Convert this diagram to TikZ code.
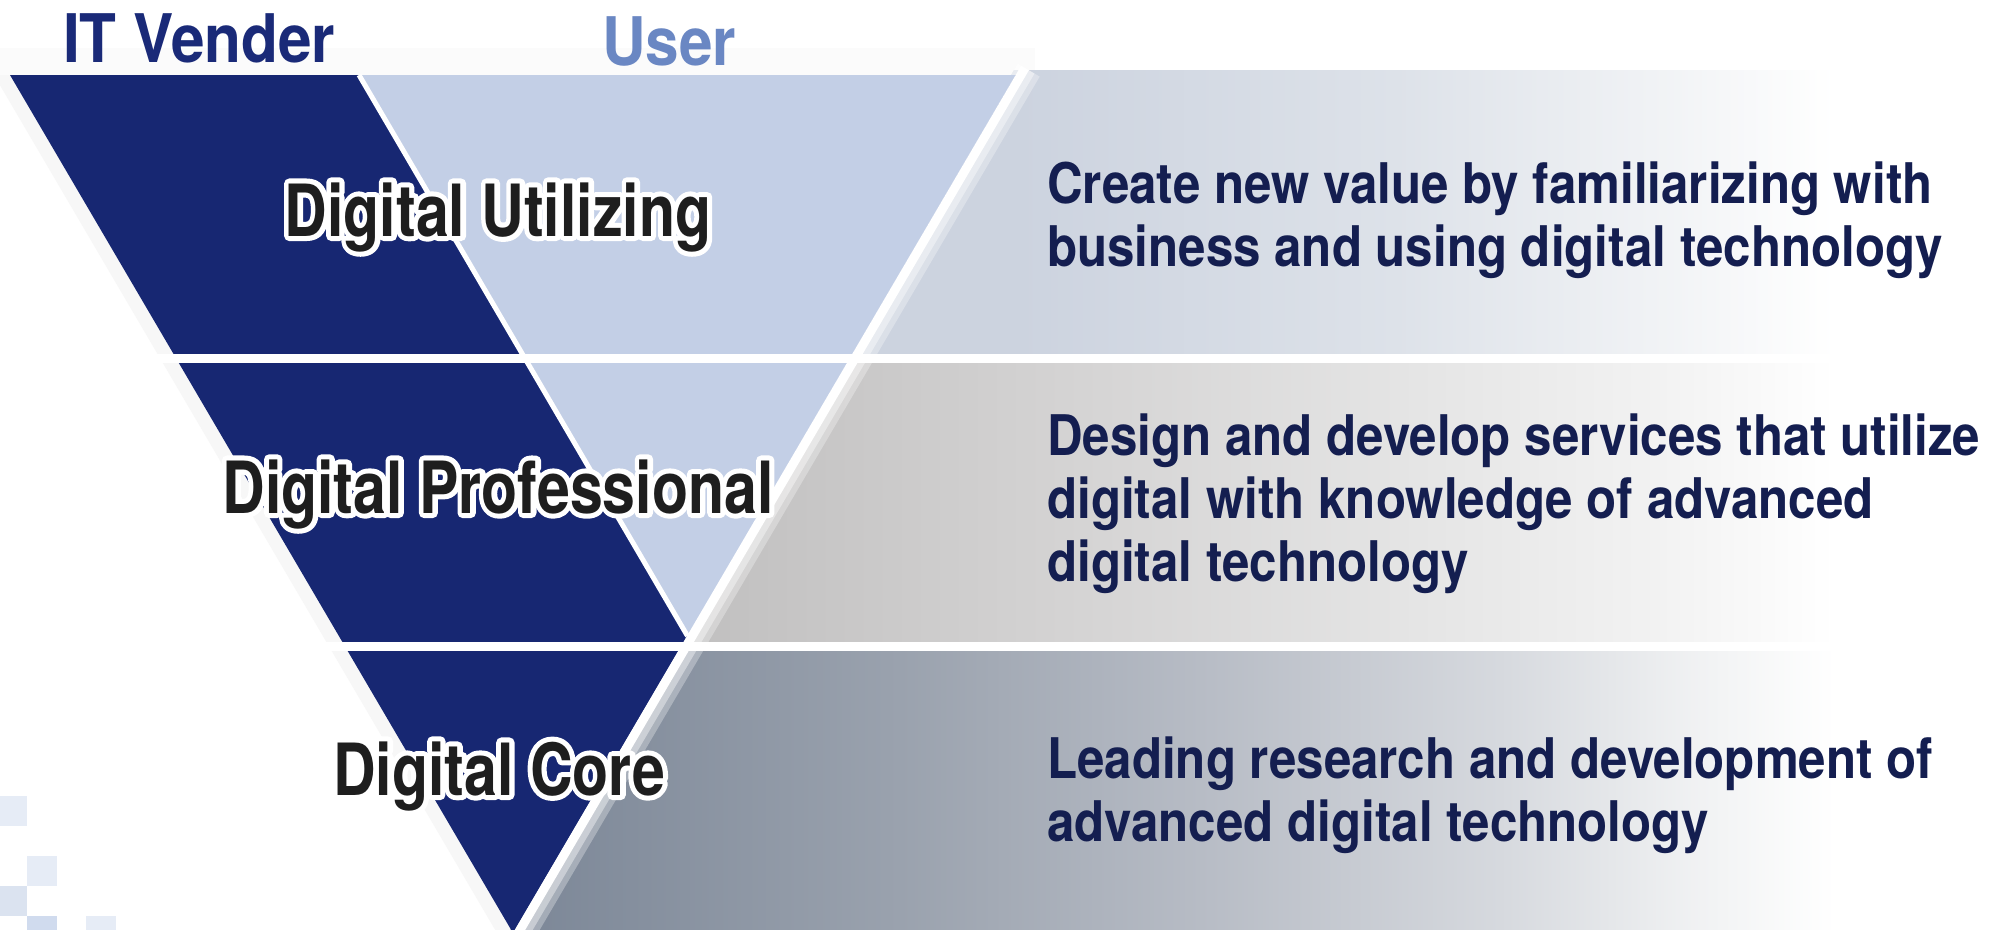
\documentclass[tikz,border=0pt]{standalone}
\usepackage{fontspec}
\newfontfamily\lblfont{TeX Gyre Heros}[FakeStretch=0.82]
\newfontfamily\glowfont{TeX Gyre Heros}[UprightFont=* Bold, FakeStretch=0.82, FakeBold=14]
\newfontfamily\descfont{TeX Gyre Heros}[FakeStretch=0.88]
\newfontfamily\hdrfont{TeX Gyre Heros}[FakeStretch=0.9]
\usetikzlibrary{calc}
\definecolor{navy}{HTML}{172772}
\definecolor{lightblue}{HTML}{C3CFE6}
\definecolor{hdrnavy}{HTML}{1A2A78}
\definecolor{userblue}{HTML}{6A87C3}
\definecolor{desccol}{HTML}{141E50}
\definecolor{lblcol}{HTML}{1E1E1E}
\definecolor{sqA}{HTML}{E6ECF6}
\definecolor{sqB}{HTML}{DBE3F0}
\definecolor{sqC}{HTML}{D0DBEE}
\pgfdeclarehorizontalshading{tierone}{100bp}{rgb(0bp)=(.80,.827,.875); rgb(46.5bp)=(.80,.827,.875); rgb(59.7bp)=(.867,.886,.914); rgb(69bp)=(.945,.952,.962); rgb(75bp)=(1,1,1); rgb(100bp)=(1,1,1)}
\pgfdeclarehorizontalshading{tiertwo}{100bp}{rgb(0bp)=(.757,.753,.753); rgb(35.5bp)=(.757,.753,.753); rgb(49.4bp)=(.839,.835,.835); rgb(59.8bp)=(.894,.894,.894); rgb(69bp)=(.95,.95,.95); rgb(75bp)=(1,1,1); rgb(100bp)=(1,1,1)}
\pgfdeclarehorizontalshading{tierthree}{100bp}{rgb(0bp)=(.49,.533,.596); rgb(29.5bp)=(.49,.533,.596); rgb(42.4bp)=(.604,.635,.682); rgb(52.9bp)=(.718,.737,.773); rgb(63.3bp)=(.839,.851,.871); rgb(70bp)=(.94,.945,.95); rgb(75bp)=(1,1,1); rgb(100bp)=(1,1,1)}
\newcommand{\glowtxt}[1]{\rlap{\glowfont\textcolor{white}{#1}}#1}
\tikzset{
  lbl/.style={font=\lblfont\bfseries\fontsize{72}{80}\selectfont, text=lblcol, inner sep=0pt, anchor=base},
  desc/.style={font=\descfont\bfseries\fontsize{56}{63}\selectfont, text=desccol, inner sep=0pt, anchor=base west},
  hdr/.style={font=\hdrfont\bfseries\fontsize{67}{70}\selectfont, inner sep=0pt, anchor=base west},
  sep/.style={fill=white},
  edgeline/.style={draw=white, line width=9pt},
  divline/.style={draw=white, line width=5pt}
}
\begin{document}
\begin{tikzpicture}[x=1pt,y=-1pt]
\useasboundingbox (0,0) rectangle (1991,929);
\fill[white] (0,0) rectangle (1991,929);
% faint band above triangle
\fill[black!1.5] (0,48) rectangle (1035,75);
% decorative squares
\fill[sqA] (-2,796) rectangle (27,826);
\fill[sqA] (27,856) rectangle (57,886);
\fill[sqB] (-2,886) rectangle (27,916);
\fill[sqC] (27,916) rectangle (57,946);
\fill[sqA] (86,916) rectangle (116,946);
% key points
\coordinate (TL) at (10,75);
\coordinate (TR) at (1016,75);
\coordinate (AP) at (513,933);
\coordinate (DR) at (359,75);
\coordinate (LT) at (687.5,636);
\coordinate (EB1) at (1025,68);
\coordinate (EB2) at (517,935);
% left faint shadow
\fill[black!3] (TL) -- (AP) -- ($(AP)+(-16,0)$) -- ($(TL)+(-16,0)$) -- cycle;
% gradient panels, kept right of the triangle
\begin{scope}
  \clip (1020,60) -- (2000,60) -- (2000,940) -- (504,940) -- cycle;
  \shade[shading=tierone] (400,70) rectangle (1835,354);
  \shade[shading=tiertwo] (400,363) rectangle (1835,642);
  \shade[shading=tierthree] (400,651) rectangle (1835,935);
  \draw[white, opacity=0.3, line width=34pt] (EB1) -- (EB2);
  \draw[white, opacity=0.4, line width=22pt] (EB1) -- (EB2);
\end{scope}
% triangle
\fill[navy] (TL) -- (TR) -- (AP) -- cycle;
\fill[lightblue] (DR) -- (TR) -- (LT) -- cycle;
\draw[divline] (DR) -- (LT);
% separators
\fill[sep] (0,354) rectangle (1991,363);
\fill[sep] (0,642) rectangle (1991,651);
% right white border
\draw[edgeline] (EB1) -- (EB2);
% headers
\node[hdr, text=hdrnavy] (hv) at (63,62) {IT Vender};
\node[hdr, text=userblue] (hu) at (602,65) {User};
% labels
\begin{scope}[line join=round]
\node[lbl] (l1) at (498,236) {\glowtxt{Digital Utilizing}};
\node[lbl] (l2) at (498,513) {\glowtxt{Digital Professional}};
\node[lbl] (l3) at (499,795) {\glowtxt{Digital Core}};
\end{scope}
% descriptions
\node[desc] (d1a) at (1047,203) {Create new value by familiarizing with};
\node[desc] (d1b) at (1047,266) {business and using digital technology};
\node[desc] (d2a) at (1047,455) {Design and develop services that utilize};
\node[desc] (d2b) at (1047,518) {digital with knowledge of advanced};
\node[desc] (d2c) at (1047,581) {digital technology};
\node[desc] (d3a) at (1047,778) {Leading research and development of};
\node[desc] (d3b) at (1047,841) {advanced digital technology};
\end{tikzpicture}
\end{document}
